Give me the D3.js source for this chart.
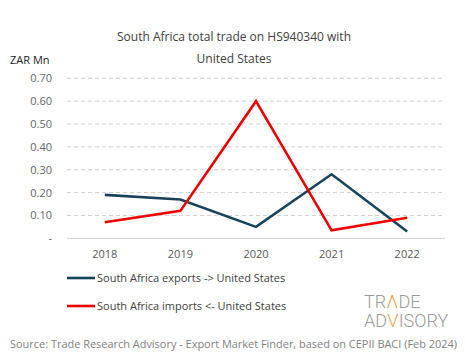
<!DOCTYPE html>
<html><head><meta charset="utf-8">
<script src="https://cdn.jsdelivr.net/npm/d3@7"></script>
<style>body{margin:0;background:#fff;} svg{display:block;font-family:"Open Sans",sans-serif;}</style>
</head><body>
<svg id="c" width="465" height="359"></svg>
<script>
const years = ["2018","2019","2020","2021","2022"];
const exportsUS = [0.19, 0.17, 0.05, 0.28, 0.03];
const importsUS = [0.07, 0.12, 0.60, 0.035, 0.09];
const yTicks = [0, 0.1, 0.2, 0.3, 0.4, 0.5, 0.6, 0.7];
const seriesNames = ["South Africa exports -> United States", "South Africa imports <- United States"];
const seriesColors = ["#174459", "#ee0000"];

const svg = d3.select("#c");
const x = d3.scaleBand().domain(years).range([67, 445]);
const y = d3.scaleLinear().domain([0, 0.7]).range([238.3, 78.3]);

// title
svg.append("text").attr("x", 234).attr("y", 41).attr("text-anchor", "middle")
  .attr("font-size", 12).attr("fill", "#404040").text("South Africa total trade on HS940340 with");
svg.append("text").attr("x", 234).attr("y", 63).attr("text-anchor", "middle")
  .attr("font-size", 12).attr("fill", "#404040").text("United States");
svg.append("text").attr("x", 10).attr("y", 64).attr("font-size", 11).attr("fill", "#222").text("ZAR Mn");

// grid
svg.append("g").selectAll("line").data(yTicks.filter(d => d > 0)).join("line")
  .attr("x1", 67).attr("x2", 445).attr("y1", d => y(d)).attr("y2", d => y(d))
  .attr("stroke", "#d0d0d0").attr("stroke-dasharray", "4,3").attr("stroke-width", 1);
svg.append("line").attr("x1", 67).attr("x2", 445).attr("y1", y(0)).attr("y2", y(0))
  .attr("stroke", "#d0d0d0").attr("stroke-width", 1);

// y axis labels
const yAxis = d3.axisLeft(y).tickValues(yTicks).tickSize(0).tickPadding(0)
  .tickFormat(d => d === 0 ? "-" : d3.format(".2f")(d));
const ga = svg.append("g").attr("transform", "translate(52,0)").call(yAxis);
ga.select(".domain").remove();
ga.selectAll("text").attr("font-size", 11).attr("fill", "#666").attr("font-family", "Open Sans, sans-serif");

// x axis labels
const xAxis = d3.axisBottom(x).tickSize(0).tickPadding(0);
const gx = svg.append("g").attr("transform", "translate(0,250)").call(xAxis);
gx.select(".domain").remove();
gx.selectAll("text").attr("font-size", 11).attr("fill", "#595959").attr("font-family", "Open Sans, sans-serif");

// lines
const line = d3.line().x((d, i) => x(years[i]) + x.bandwidth() / 2).y(d => y(d));
[exportsUS, importsUS].forEach((s, k) => {
  svg.append("path").datum(s).attr("d", line).attr("fill", "none")
    .attr("stroke", seriesColors[k]).attr("stroke-width", 2.6).attr("stroke-linejoin", "miter");
});

// legend
seriesNames.forEach((n, k) => {
  const ly = 278 + k * 28;
  svg.append("line").attr("x1", 67).attr("x2", 95).attr("y1", ly).attr("y2", ly)
    .attr("stroke", seriesColors[k]).attr("stroke-width", 2.6);
  svg.append("text").attr("x", 97).attr("y", ly + 4).attr("font-size", 11).attr("fill", "#404040").text(n);
});

// logo: pieces placed one after another
const logo = svg.append("g").attr("font-family", "Roboto, sans-serif").attr("font-weight", 300)
  .attr("font-size", 18).attr("fill", "#9a9a9a");
function logoLine(parts, x0, yb) {
  let cx = x0;
  parts.forEach(([txt, col]) => {
    const t = logo.append("text").attr("x", cx).attr("y", yb).attr("fill", col).text(txt);
    cx += t.node().getComputedTextLength() + 0.3;
  });
}
logoLine([["TR", "#9a9a9a"], ["Λ", "#f2a33a"], ["DE", "#9a9a9a"]], 364, 308);
logoLine([["AD", "#9a9a9a"], ["V", "#f2a33a"], ["ISORY", "#9a9a9a"]], 364, 327);

// source
svg.append("text").attr("x", 10).attr("y", 348).attr("font-size", 11).attr("fill", "#7f7f7f")
  .attr("textLength", 447).attr("lengthAdjust", "spacingAndGlyphs")
  .text("Source: Trade Research Advisory - Export Market Finder, based on CEPII BACI (Feb 2024)");
</script>
</body></html>
